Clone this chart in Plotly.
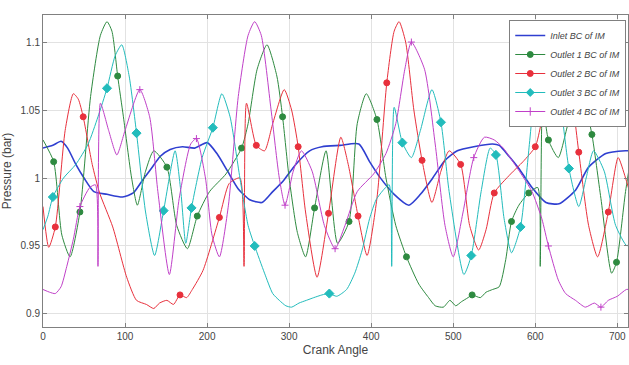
import plotly.graph_objects as go

# ---------------- data (crank angle in degrees, pressure in bar) ----------------
inlet_x = [0, 12, 22, 30, 40, 50, 62, 78, 97, 110, 122, 132, 143, 155, 170, 185, 200, 212, 225, 238,
           252, 267, 280, 293, 308, 325, 340, 362, 385, 398, 410, 428, 446, 460, 475, 490, 505, 525,
           548, 556, 568, 580, 596, 613, 629, 649, 665, 686, 710, 720]
inlet_y = [1.022, 1.024, 1.027, 1.022, 1.010, 1.000, 0.990, 0.988, 0.986, 0.989, 0.999, 1.007, 1.016,
           1.021, 1.023, 1.022, 1.026, 1.018, 1.005, 0.992, 0.984, 0.982, 0.990, 0.998, 1.010, 1.020,
           1.023, 1.024, 1.025, 1.012, 1.001, 0.988, 0.980, 0.988, 1.000, 1.013, 1.020, 1.023, 1.025,
           1.024, 1.016, 1.007, 0.993, 0.982, 0.981, 0.991, 1.008, 1.018, 1.020, 1.020]

out1_x = [0, 13, 23, 33, 45, 58, 70, 78, 84, 91, 98, 108, 115, 125, 135, 151, 163, 176, 188, 203, 223,
          242, 250, 261, 273, 285, 292, 300, 310, 320, 331, 345, 359, 373, 383, 394, 407, 418, 430,
          443, 458, 470, 478, 488, 496, 503, 510, 518, 523, 533, 540, 548, 556, 564, 571, 580, 592,
          603, 606, 609, 616, 628, 640, 652, 660, 669, 680, 693, 699, 710, 720]
out1_y = [1.028, 1.012, 0.958, 0.942, 0.975, 1.060, 1.105, 1.115, 1.108, 1.075, 1.045, 1.000, 0.980,
          1.005, 1.020, 1.008, 0.965, 0.948, 0.972, 0.990, 1.003, 1.022, 1.040, 1.080, 1.098, 1.075,
          1.045, 1.000, 0.960, 0.942, 0.978, 1.020, 0.952, 0.968, 1.040, 1.062, 1.043, 1.000, 0.965,
          0.942, 0.922, 0.912, 0.906, 0.905, 0.910, 0.906, 0.909, 0.912, 0.914, 0.912, 0.916, 0.918,
          0.920, 0.940, 0.968, 0.980, 0.989, 0.993, 0.935, 1.055, 1.028, 1.015, 1.040, 1.060, 1.055,
          1.032, 0.985, 0.930, 0.938, 0.990, 1.028]
out1_mk = [13, 45, 91, 151, 188, 242, 292, 331, 373, 407, 443, 523, 571, 592, 616, 669, 699]

out2_x = [0, 7, 15, 27, 37, 43, 49, 60, 69, 85, 102, 114, 126, 135, 142, 151, 159, 167, 175, 182, 195,
          215, 227, 240, 245, 248, 260, 270, 280, 294, 303, 311, 320, 334, 348, 363, 372, 384, 395, 407,
          419, 428, 434, 442, 452, 462, 474, 485, 495, 509, 520, 531, 540, 550, 570, 585, 600, 607,
          617, 629, 641, 653, 665, 676, 689, 701, 710, 720]
out2_y = [0.979, 0.949, 0.964, 1.035, 1.062, 1.058, 1.045, 1.010, 0.989, 0.964, 0.927, 0.910, 0.907,
          0.904, 0.908, 0.910, 0.907, 0.914, 0.912, 0.918, 0.932, 0.971, 0.996, 1.000, 0.935, 1.055,
          1.024, 1.020, 1.040, 1.065, 1.050, 1.023, 0.975, 0.927, 0.974, 1.030, 1.010, 0.972, 0.943,
          0.985, 1.070, 1.108, 1.115, 1.100, 1.050, 1.013, 0.982, 1.005, 1.020, 1.010, 0.965, 0.947,
          0.962, 0.989, 1.003, 1.012, 1.023, 1.040, 1.080, 1.098, 1.075, 1.019, 0.965, 0.942, 0.975,
          1.015, 1.000, 0.979]
out2_mk = [15, 49, 167, 215, 260, 311, 348, 384, 419, 462, 509, 550, 600, 653, 689]

out3_x = [0, 6, 12, 25, 40, 55, 67, 78, 88, 96, 105, 114, 125, 136, 147, 161, 168, 174, 181, 194, 207,
          218, 228, 240, 250, 258, 270, 280, 288, 296, 303, 312, 321, 330, 340, 349, 358, 370, 380,
          389, 398, 406, 416, 422, 425, 428, 438, 449, 460, 474, 485, 495, 513, 522, 534, 545, 552,
          562, 571, 582, 592, 600, 607, 614, 622, 632, 641, 653, 662, 671, 684, 698, 712, 720]
out3_y = [0.962, 0.972, 0.986, 1.000, 1.010, 1.025, 1.045, 1.066, 1.090, 1.098, 1.075, 1.033, 0.975,
          0.943, 0.976, 1.020, 0.990, 0.952, 0.978, 1.015, 1.037, 1.062, 1.045, 1.000, 0.965, 0.950,
          0.930, 0.915, 0.910, 0.906, 0.905, 0.908, 0.910, 0.912, 0.914, 0.915, 0.913, 0.918, 0.930,
          0.947, 0.970, 0.984, 0.992, 0.995, 0.935, 1.052, 1.026, 1.015, 1.035, 1.065, 1.041, 0.990,
          0.929, 0.943, 0.990, 1.022, 1.017, 0.970, 0.945, 0.964, 1.020, 1.070, 1.105, 1.115, 1.100,
          1.050, 1.007, 0.979, 1.000, 1.020, 1.005, 0.965, 0.950, 0.962]
out3_mk = [12, 78, 114, 147, 181, 207, 258, 349, 438, 485, 522, 552, 582, 641]

out4_x = [0, 8, 15, 22, 29, 37, 45, 57, 64, 67, 70, 80, 90, 100, 118, 130, 140, 154, 166, 180, 187,
          198, 206, 215, 226, 238, 250, 258, 266, 278, 288, 295, 305, 315, 328, 343, 356, 368, 383,
          403, 418, 430, 441, 449, 465, 478, 490, 500, 512, 525, 538, 550, 561, 575, 586, 596, 608,
          616, 628, 637, 649, 661, 672, 680, 689, 700, 711, 720]
out4_y = [0.918, 0.916, 0.915, 0.920, 0.935, 0.955, 0.979, 0.993, 0.995, 0.935, 1.055, 1.035, 1.017,
          1.035, 1.065, 1.045, 0.990, 0.929, 0.985, 1.025, 1.029, 1.000, 0.958, 0.942, 0.980, 1.060,
          1.105, 1.115, 1.105, 1.050, 1.000, 0.980, 1.005, 1.020, 1.005, 0.965, 0.948, 0.965, 0.990,
          1.003, 1.018, 1.040, 1.080, 1.100, 1.080, 1.025, 0.965, 0.942, 0.975, 1.015, 1.030, 1.028,
          1.022, 1.010, 1.000, 0.990, 0.970, 0.950, 0.925, 0.915, 0.910, 0.905, 0.908, 0.905, 0.910,
          0.913, 0.918, 0.918]
out4_mk = [45, 118, 187, 295, 356, 449, 525, 616, 680]

names = ["Inlet BC of IM", "Outlet 1 BC of IM", "Outlet 2 BC of IM", "Outlet 3 BC of IM", "Outlet 4 BC of IM"]
y_ticks = [0.9, 0.95, 1.0, 1.05, 1.1]
y_tick_text = ["0.9", "0.95", "1", "1.05", "1.1"]
x_ticks = [0, 100, 200, 300, 400, 500, 600, 700]

# ---------------- styling ----------------
colors = ["#2f3fd0", "#2e8a40", "#e8303c", "#22bcbc", "#c040c8"]
symbols = [None, "circle", "circle", "diamond", "cross-thin-open"]
widths = [1.6, 1.0, 1.0, 1.0, 1.0]
mk_sizes = [0, 6, 6, 7, 5]

series = [
    (inlet_x, inlet_y, []),
    (out1_x, out1_y, out1_mk),
    (out2_x, out2_y, out2_mk),
    (out3_x, out3_y, out3_mk),
    (out4_x, out4_y, out4_mk),
]

fig = go.Figure()
for i, (xs, ys, mk) in enumerate(series):
    fig.add_trace(go.Scatter(x=xs, y=ys, mode="lines",
                             line=dict(color=colors[i], width=widths[i], shape="spline", smoothing=0.6),
                             showlegend=False, hoverinfo="skip"))
    if mk:
        lookup = dict(zip(xs, ys))
        fig.add_trace(go.Scatter(x=mk, y=[lookup[a] for a in mk], mode="markers",
                                 marker=dict(color=colors[i], symbol=symbols[i], size=mk_sizes[i],
                                             line=dict(color=colors[i], width=1)),
                                 showlegend=False, hoverinfo="skip"))

# legend entries
for i, nm in enumerate(names):
    if symbols[i] is None:
        fig.add_trace(go.Scatter(x=[None], y=[None], mode="lines", name=nm,
                                 line=dict(color=colors[i], width=1.4)))
    else:
        fig.add_trace(go.Scatter(x=[None], y=[None], mode="lines+markers", name=nm,
                                 line=dict(color=colors[i], width=1.2),
                                 marker=dict(color=colors[i], symbol=symbols[i], size=6,
                                             line=dict(color=colors[i], width=1))))

axis_common = dict(showline=True, linecolor="#808080", linewidth=1, mirror="ticks",
                   ticks="inside", ticklen=4, tickcolor="#808080",
                   showgrid=True, gridcolor="#e2e2e2", gridwidth=1, zeroline=False,
                   tickfont=dict(family="Liberation Sans, Arial", size=10, color="#444"))

fig.update_layout(
    width=629, height=365,
    margin=dict(l=43, r=1, t=15, b=38),
    paper_bgcolor="white", plot_bgcolor="white",
    xaxis=dict(range=[0, 713], tickvals=x_ticks,
               title=dict(text="Crank Angle", standoff=4,
                          font=dict(family="Liberation Sans, Arial", size=12, color="#444")),
               **axis_common),
    yaxis=dict(range=[0.8904, 1.1199], tickvals=y_ticks, ticktext=y_tick_text,
               title=dict(text="Pressure (bar)", standoff=6,
                          font=dict(family="Liberation Sans, Arial", size=12, color="#444")),
               **axis_common),
    legend=dict(x=0.797, y=0.984, xanchor="left", yanchor="top",
                bgcolor="white", bordercolor="#808080", borderwidth=1,
                font=dict(family="Liberation Sans, Arial", size=9, color="#444", style="italic"),
                tracegroupgap=0, itemwidth=30),
)

fig.write_html("out.html")
